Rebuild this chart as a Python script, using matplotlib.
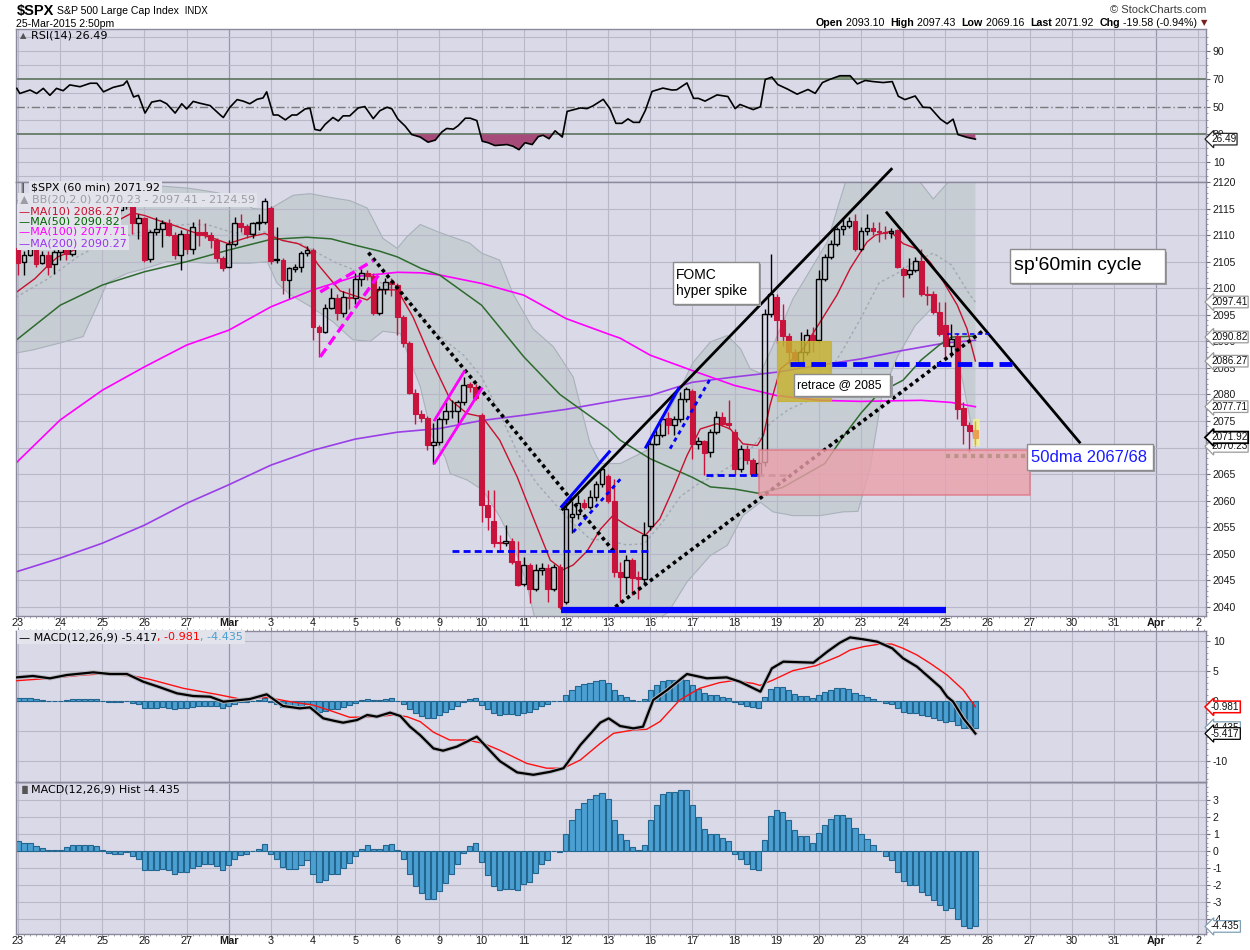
import numpy as np
import matplotlib
matplotlib.use('Agg')
import matplotlib.pyplot as plt
from matplotlib.patches import Rectangle, Polygon
from matplotlib import transforms
import matplotlib.patheffects as pe

plt.rcParams['font.family'] = ['Liberation Sans', 'DejaVu Sans']

# ---------------- DATA ----------------
day_labels = ['23', '24', '25', '26', '27', 'Mar', '3', '4', '5', '6', '9', '10', '11', '12', '13',
              '16', '17', '18', '19', '20', '23', '24', '25', '26', '27', '30', '31', 'Apr', '2']
bars_per_day = 7

opens = [
    2107.5, 2105.0, 2106.3, 2107.5, 2104.7, 2106.3, 2104.6,
    2106.8, 2107.5, 2106.5, 2109.0, 2110.5, 2111.5, 2113.5,
    2114.7, 2111.5, 2113.4, 2114.7, 2115.5, 2115.8, 2112.2,
    2113.2, 2105.5, 2110.6, 2111.2, 2112.2, 2110.0, 2106.2,
    2110.3, 2107.4, 2110.5, 2110.5, 2110.1, 2109.0, 2105.7,
    2104.0, 2108.4, 2112.2, 2111.7, 2110.3, 2112.2, 2112.5,
    2115.1, 2105.3, 2105.4, 2101.5, 2103.7, 2104.0, 2106.6,
    2107.2, 2092.7, 2091.8, 2096.2, 2098.1, 2095.3, 2098.4,
    2098.1, 2101.7, 2102.8, 2102.3, 2095.4, 2099.8, 2101.2,
    2100.6, 2094.6, 2089.6, 2080.2, 2076.4, 2075.5, 2070.5,
    2071.1, 2075.3, 2076.8, 2076.9, 2078.6, 2081.9, 2081.5,
    2076.1, 2059.2, 2056.2, 2052.2, 2052.0, 2052.5, 2048.7,
    2044.4, 2047.9, 2043.3, 2046.9, 2047.4, 2043.3, 2047.6,
    2041.0, 2056.9, 2057.5, 2059.6, 2058.8, 2060.7, 2063.2,
    2064.6, 2059.9, 2046.6, 2045.6, 2048.8, 2045.6, 2045.3,
    2055.3, 2070.7, 2072.3, 2075.6, 2074.2, 2075.4, 2079.2,
    2080.6, 2070.7, 2071.3, 2069.2, 2072.9, 2075.7, 2074.7,
    2072.9, 2066.0, 2069.7, 2067.6, 2065.1, 2067.3, 2095.2,
    2098.3, 2094.1, 2091.1, 2088.0, 2086.2, 2088.0, 2091.2,
    2090.2, 2101.8, 2105.9, 2108.4, 2111.2, 2111.8, 2112.6,
    2107.4, 2110.7, 2111.3, 2110.7, 2110.6, 2110.4, 2110.9,
    2103.6, 2102.7, 2103.5, 2105.2, 2099.0, 2099.0, 2095.6,
    2093.1, 2089.1, 2091.1, 2077.4, 2074.2, 2073.4,
]
highs = [
    2108.0, 2107.0, 2108.5, 2108.5, 2107.0, 2107.0, 2107.2,
    2108.5, 2108.7, 2109.5, 2111.0, 2112.0, 2114.0, 2115.5,
    2115.5, 2114.0, 2115.3, 2116.2, 2116.2, 2116.5, 2114.0,
    2113.5, 2111.0, 2113.5, 2112.8, 2113.0, 2110.5, 2111.0,
    2111.0, 2112.5, 2113.0, 2112.2, 2110.5, 2109.5, 2106.0,
    2109.0, 2113.5, 2114.0, 2112.0, 2112.5, 2114.0, 2117.0,
    2115.5, 2111.5, 2105.6, 2104.0, 2104.5, 2107.0, 2108.0,
    2107.5, 2093.0, 2097.0, 2100.0, 2099.0, 2099.5, 2100.0,
    2102.8, 2103.7, 2103.5, 2102.8, 2100.5, 2102.0, 2102.0,
    2101.0, 2095.0, 2090.0, 2081.0, 2077.0, 2076.0, 2074.6,
    2075.8, 2078.6, 2079.0, 2079.0, 2083.3, 2082.4, 2082.0,
    2076.5, 2062.0, 2062.0, 2053.5, 2055.4, 2053.0, 2052.5,
    2049.5, 2048.3, 2048.0, 2048.2, 2048.0, 2048.0, 2048.0,
    2059.7, 2060.0, 2061.0, 2060.4, 2062.0, 2063.8, 2066.3,
    2065.0, 2064.0, 2048.4, 2049.7, 2049.2, 2046.8, 2056.0,
    2071.7, 2073.5, 2076.0, 2076.7, 2076.0, 2080.4, 2081.5,
    2081.0, 2072.0, 2071.5, 2073.5, 2076.8, 2076.7, 2078.9,
    2073.5, 2070.4, 2070.4, 2068.0, 2067.5, 2096.0, 2106.5,
    2099.0, 2097.1, 2091.5, 2088.5, 2091.8, 2092.4, 2092.7,
    2103.4, 2106.5, 2109.0, 2111.5, 2113.0, 2113.5, 2114.0,
    2111.5, 2114.0, 2112.5, 2112.5, 2111.8, 2111.3, 2111.2,
    2104.0, 2105.7, 2105.9, 2107.4, 2100.5, 2099.5, 2097.4,
    2097.4, 2093.3, 2091.5, 2078.5, 2074.8, 2075.1,
]
lows = [
    2102.5, 2102.5, 2106.0, 2104.0, 2104.5, 2102.5, 2102.7,
    2105.3, 2105.3, 2106.0, 2108.5, 2109.5, 2111.0, 2113.0,
    2111.0, 2111.0, 2113.0, 2114.0, 2115.0, 2110.3, 2109.3,
    2105.0, 2105.0, 2110.0, 2107.8, 2109.8, 2105.5, 2103.5,
    2106.5, 2106.5, 2108.0, 2109.5, 2107.5, 2105.0, 2103.3,
    2104.0, 2108.0, 2110.5, 2109.5, 2109.5, 2111.0, 2112.0,
    2104.5, 2104.8, 2099.0, 2098.2, 2103.0, 2103.0, 2106.0,
    2090.3, 2087.1, 2091.5, 2096.0, 2094.0, 2094.5, 2096.0,
    2097.0, 2100.5, 2101.5, 2095.0, 2095.0, 2099.0, 2098.5,
    2091.2, 2089.0, 2080.0, 2074.5, 2074.8, 2069.5, 2067.0,
    2070.5, 2074.5, 2075.5, 2074.5, 2078.0, 2080.5, 2079.0,
    2056.0, 2054.5, 2051.3, 2050.4, 2051.5, 2048.0, 2044.0,
    2044.0, 2040.7, 2043.0, 2046.0, 2041.0, 2043.0, 2039.6,
    2040.5, 2054.0, 2056.5, 2058.5, 2058.5, 2060.0, 2062.5,
    2059.5, 2045.6, 2040.9, 2042.5, 2042.2, 2041.5, 2044.4,
    2054.5, 2070.4, 2072.0, 2072.6, 2072.3, 2074.8, 2078.5,
    2067.9, 2069.8, 2064.8, 2068.2, 2072.5, 2074.0, 2073.5,
    2064.8, 2065.5, 2067.0, 2064.8, 2064.5, 2066.5, 2094.5,
    2089.6, 2089.2, 2085.8, 2085.6, 2085.6, 2087.5, 2088.0,
    2089.8, 2101.3, 2105.5, 2108.0, 2110.0, 2111.3, 2107.0,
    2107.0, 2110.0, 2110.0, 2108.7, 2109.3, 2109.5, 2103.8,
    2098.3, 2102.0, 2103.0, 2098.5, 2096.8, 2095.2, 2091.0,
    2087.0, 2087.0, 2075.4, 2070.7, 2069.2, 2070.4,
]
closes = [
    2104.7, 2106.3, 2107.5, 2104.5, 2106.3, 2104.0, 2106.8,
    2107.5, 2106.5, 2109.0, 2110.5, 2111.5, 2113.5, 2114.8,
    2111.5, 2113.4, 2114.7, 2115.6, 2115.8, 2112.2, 2113.2,
    2105.4, 2110.6, 2111.2, 2112.2, 2110.0, 2106.2, 2110.3,
    2107.4, 2111.5, 2110.1, 2110.0, 2109.0, 2105.6, 2103.8,
    2108.4, 2112.2, 2111.5, 2110.3, 2112.2, 2112.5, 2116.5,
    2105.1, 2105.4, 2101.5, 2103.8, 2104.0, 2106.6, 2107.2,
    2092.7, 2091.8, 2096.2, 2098.1, 2095.3, 2098.4, 2098.1,
    2101.7, 2102.8, 2102.3, 2095.4, 2099.8, 2101.2, 2100.8,
    2094.6, 2089.6, 2080.2, 2076.4, 2075.5, 2070.5, 2071.1,
    2075.3, 2076.8, 2076.9, 2078.6, 2081.8, 2081.5, 2079.3,
    2059.2, 2057.0, 2052.0, 2052.0, 2052.5, 2048.5, 2044.1,
    2047.9, 2043.3, 2046.9, 2047.4, 2043.3, 2047.6, 2040.0,
    2058.5, 2057.5, 2059.6, 2058.8, 2060.7, 2063.2, 2065.9,
    2059.9, 2046.6, 2045.6, 2048.8, 2045.4, 2045.3, 2053.5,
    2070.7, 2072.3, 2075.4, 2074.2, 2075.4, 2079.2, 2081.1,
    2070.7, 2071.3, 2069.0, 2072.9, 2075.7, 2074.5, 2074.2,
    2066.0, 2069.8, 2067.6, 2065.1, 2067.1, 2095.2, 2099.0,
    2094.1, 2091.1, 2088.0, 2086.4, 2088.0, 2091.2, 2090.2,
    2101.8, 2105.9, 2108.4, 2111.2, 2111.8, 2112.6, 2107.4,
    2110.7, 2111.3, 2110.7, 2110.6, 2110.4, 2110.8, 2104.0,
    2102.5, 2103.5, 2105.2, 2099.0, 2098.8, 2095.6, 2091.4,
    2089.2, 2090.5, 2077.3, 2074.2, 2073.2, 2071.9,
]

# moving averages / bands, read at knot positions (bar index, value)
ma10_x = [-0.2, 2.8, 5, 6.6, 10, 13, 15, 19, 21, 24, 26, 29, 32.7, 34.9, 38.2, 41, 43.9, 46.5, 48.2, 49.8,
          51.5, 53.5, 58, 60.1, 63, 65.6, 68.9, 71.8, 74.6, 77.1, 80, 82.9, 85.5, 88.4, 90.5, 92.2, 94.5,
          96.7, 98.7, 101.2, 104.2, 106.6, 108.8, 111.1, 113.3, 116.1, 118.3, 120.4, 122.8, 123.8, 124.9,
          126.6, 128.7, 130.4, 133.2, 136, 138.2, 141, 142.4, 144.9, 147, 149.3, 151.5, 153.7, 156, 157.6, 159]
ma10_y = [2099.3, 2101.8, 2104.3, 2105.9, 2107.5, 2109.5, 2111.8, 2114.2, 2113.7, 2112.5, 2111.8, 2110.6,
          2109.3, 2108.4, 2109.6, 2110.3, 2109.0, 2108.4, 2107.4, 2104.5, 2102.2, 2099.5, 2097.8, 2099.7,
          2099.7, 2094.6, 2085.9, 2079.0, 2076.4, 2075.8, 2071.4, 2064.5, 2057.0, 2048.8, 2047.0, 2047.9,
          2050.5, 2054.6, 2057.1, 2055.3, 2053.5, 2056.6, 2062.2, 2068.5, 2073.5, 2074.5, 2073.5, 2070.7,
          2070.4, 2072.3, 2078.0, 2084.8, 2086.7, 2088.6, 2093.6, 2098.7, 2103.7, 2108.7, 2110.0, 2110.7,
          2108.4, 2107.4, 2104.9, 2101.2, 2096.8, 2092.4, 2086.3]
ma50_x = [-0.33, 7, 14, 21, 28, 35, 42, 48, 52, 56, 60, 63, 67, 70, 77, 84, 90, 98, 100, 105, 112, 115,
          119, 123, 127, 134, 137, 140, 143, 147, 150, 153, 155, 159]
ma50_y = [2090.2, 2096.8, 2100.6, 2103.1, 2105.0, 2107.2, 2109.2, 2109.6, 2109.3, 2108.1, 2107.0, 2105.9,
          2103.7, 2102.5, 2096.8, 2087.1, 2080.0, 2073.5, 2071.4, 2067.9, 2064.4, 2062.6, 2062.2, 2061.4,
          2062.5, 2067.0, 2072.0, 2076.5, 2080.3, 2082.7, 2086.5, 2089.3, 2090.8, 2091.0]
ma100_x = [-0.33, 7, 14, 21, 28, 35, 42, 49, 56, 63, 67, 70, 77, 84, 91, 98, 100, 105, 112, 119, 126,
           133, 140, 150, 155, 159]
ma100_y = [2067.1, 2075.2, 2080.8, 2085.2, 2089.3, 2092.1, 2096.5, 2099.7, 2102.2, 2103.0, 2102.9, 2102.5,
           2100.9, 2098.7, 2094.3, 2091.4, 2090.6, 2087.4, 2084.5, 2081.7, 2079.8, 2078.9, 2078.7, 2078.9,
           2078.5, 2077.7]
ma200_x = [-0.33, 7, 14, 21, 28, 35, 42, 49, 56, 63, 70, 77, 84, 91, 100, 105, 112, 119, 126, 133, 140,
           147, 154, 159]
ma200_y = [2046.6, 2049.2, 2052.0, 2055.4, 2059.5, 2063.0, 2066.7, 2069.5, 2071.6, 2072.9, 2073.6, 2075.1,
           2076.1, 2077.2, 2079.0, 2079.8, 2082.3, 2083.3, 2084.2, 2085.5, 2086.7, 2088.3, 2089.7, 2090.2]
bbmid_x = [-0.33, 5, 10, 15, 20, 23, 26, 29, 32, 35, 38, 41, 44, 47, 50, 53, 56, 59, 62, 65, 68, 71, 74,
           77, 80, 83, 86, 89, 92, 95, 98, 101, 104, 107, 110, 113, 116, 119, 122, 125, 128, 131, 134,
           137, 140, 143, 146, 149, 152, 155, 158, 159]
bbmid_y = [2098.3, 2101.8, 2106.0, 2109.0, 2110.5, 2111.2, 2111.8, 2112.1, 2111.8, 2110.7, 2110.1, 2110.6,
           2109.0, 2108.4, 2106.5, 2104.7, 2103.4, 2101.7, 2100.1, 2097.8, 2093.0, 2090.1, 2087.4, 2083.3,
           2076.5, 2068.9, 2063.5, 2059.6, 2055.9, 2052.8, 2052.5, 2051.7, 2051.9, 2055.9, 2060.8, 2063.2,
           2064.9, 2067.0, 2070.1, 2074.7, 2077.2, 2078.7, 2083.0, 2088.4, 2094.4, 2101.0, 2102.8, 2105.1,
           2106.6, 2104.4, 2098.9, 2097.4]
bbup_x = [-0.33, 7, 14, 21, 28.6, 33, 36.5, 39, 41.5, 42.4, 45.7, 48.5, 52.3, 55.1, 58, 60.6, 63, 64.6,
          66.8, 70, 75, 77, 80, 82.2, 85.5, 88.9, 92.2, 95, 96.7, 100, 105, 112.1, 115, 117.8, 120, 121.6,
          123.3, 125.7, 128.7, 134.4, 137.7, 140, 145, 149.8, 152, 154.5, 157, 159]
bbup_y = [2116.5, 2117.5, 2118.5, 2119.5, 2118.8, 2118.0, 2117.0, 2115.0, 2114.8, 2115.3, 2117.5, 2117.8,
          2117.0, 2116.5, 2115.1, 2109.4, 2107.5, 2109.7, 2112.0, 2110.5, 2108.5, 2106.6, 2105.3, 2099.0,
          2092.4, 2089.0, 2083.3, 2070.8, 2067.0, 2067.0, 2069.8, 2086.0, 2089.9, 2091.1, 2088.6, 2084.8,
          2084.0, 2090.0, 2098.0, 2108.7, 2121.0, 2126.0, 2124.0, 2120.0, 2116.8, 2120.0, 2122.5, 2124.6]
bblo_x = [-0.33, 2.5, 7, 10.8, 13.1, 14.8, 18.1, 20.8, 24.7, 28.1, 31.4, 35.2, 38.5, 41.4, 43, 45.2, 48.5,
          52.3, 55.6, 58.5, 60.6, 63.5, 65.1, 66.8, 68.8, 70.9, 71.8, 74.6, 77.2, 80, 82.2, 84.5, 86, 92,
          98, 104, 108, 111.1, 115, 117.8, 120.4, 123.3, 125.4, 128.7, 133.2, 137, 139.5, 141.5, 143.5,
          146, 149, 152, 155, 157, 159]
bblo_y = [2087.8, 2088.4, 2089.7, 2090.9, 2096.6, 2101.0, 2102.8, 2103.6, 2105.0, 2105.0, 2104.7, 2104.7,
          2104.7, 2105.0, 2101.0, 2098.8, 2096.6, 2093.7, 2090.3, 2090.0, 2091.9, 2091.5, 2086.5, 2081.5,
          2072.0, 2068.3, 2065.1, 2063.9, 2062.0, 2057.0, 2052.0, 2044.4, 2037.0, 2033.0, 2033.5, 2036.0,
          2039.0, 2044.7, 2049.7, 2051.6, 2057.2, 2059.7, 2057.9, 2057.2, 2057.2, 2057.9, 2058.0, 2066.0,
          2080.0, 2087.0, 2093.0, 2096.5, 2091.0, 2082.0, 2070.2]

rsi_x = [-0.2, 0.3, 2, 3.1, 4.2, 5.3, 6.4, 7.5, 8.6, 10.3, 12, 13.1, 14.2, 15.8, 17.5, 18.1, 19.2, 20, 21.1,
         22.2, 23.6, 24.7, 26.1, 27.2, 28, 29.1, 30.2, 31.9, 33.6, 34.1, 35.2, 36.4, 37.4, 38.5, 39.7, 40.7,
         41.3, 42.4, 43.2, 44.4, 45.5, 46.3, 47.7, 48.5, 49.3, 50.2, 51, 52.3, 53.2, 54, 55.1, 56.5, 57.6,
         59, 60.1, 61.3, 62.1, 63.1, 64.3, 65.4, 66.8, 68.1, 69.3, 70.4, 71.2, 72.3, 73.1, 74.3, 75.1, 76.2,
         77.1, 78.1, 79.2, 81.2, 82.2, 83.2, 84.2, 85.4, 86.4, 87.2, 88.2, 89.2, 90.4, 91.2, 93.4, 94.5,
         95.5, 97.2, 98.3, 99.3, 100.3, 101.3, 102.2, 103.2, 104.2, 105.3, 107.1, 108.6, 109.4, 111.1, 112.2,
         113, 114.1, 116.1, 117.9, 119.1, 119.9, 122.1, 123.3, 124.1, 125.2, 126.2, 127.7, 129.4, 131.2,
         132.4, 133.6, 134.9, 136.5, 138.2, 139.4, 140.7, 142, 143.7, 145.2, 146.2, 147.3, 149, 150.3, 151.5,
         153.2, 154.3, 155.3, 156.1, 157.6, 159]
rsi_y = [63.1, 59.4, 61.9, 59.4, 63.1, 58.1, 63.1, 61.4, 65.6, 64.3, 66.8, 66.8, 60.6, 63.8, 65.6, 68.5,
         56.9, 58.1, 45.3, 53.2, 54.4, 52.0, 45.3, 52.0, 48.3, 53.7, 52.4, 50.7, 43.9, 42.1, 49.5, 55.0, 53.9,
         52.0, 55.2, 56.2, 60.6, 43.9, 43.9, 40.4, 43.9, 43.9, 48.3, 48.8, 33.5, 32.7, 37.1, 42.1, 39.6, 43.3,
         43.3, 49.0, 50.0, 41.3, 47.0, 49.5, 48.3, 40.9, 35.9, 29.8, 28.0, 24.3, 25.8, 31.7, 34.2, 33.7, 36.2,
         41.6, 41.6, 39.9, 25.0, 23.9, 21.9, 22.6, 21.4, 18.9, 23.9, 22.6, 28.3, 29.3, 26.8, 32.5, 28.0, 46.5,
         49.0, 48.5, 50.5, 55.2, 48.5, 37.9, 37.9, 41.1, 38.6, 38.6, 47.3, 60.9, 63.3, 61.9, 62.1, 67.0, 55.9,
         55.9, 53.9, 58.4, 57.2, 48.5, 51.5, 47.8, 49.8, 69.5, 71.2, 65.8, 62.8, 58.9, 62.3, 59.5, 67.3, 69.7,
         72.2, 72.2, 66.3, 68.8, 68.0, 67.3, 68.0, 57.4, 55.0, 57.6, 49.5, 49.2, 40.9, 37.6, 40.9, 29.8, 27.8,
         26.49]

macd_x = [-0.2, 2.5, 5.3, 8.1, 12.5, 15.3, 18.1, 20.8, 23.6, 26.4, 29.1, 31.9, 34.1, 35.8, 38.5, 41.3, 44,
          46.8, 48.5, 50.7, 52.4, 54, 56.3, 58, 59.6, 61.8, 63.5, 65.1, 66.8, 69, 70.6, 72.9, 76.2, 80, 82.9,
          85.6, 88.4, 90.6, 93.4, 96.7, 98.1, 100, 102.2, 103.8, 105.5, 107.8, 111.1, 114.4, 117.7, 119.9,
          123.3, 125.2, 127.1, 132.1, 134.4, 136.5, 138.2, 140.4, 142.7, 145.2, 147, 149.3, 151.5, 153.2,
          154.3, 155.3, 157, 159]
macd_y = [3.94, 4.17, 3.78, 4.33, 4.78, 4.5, 4.5, 3.22, 2.28, 1.28, 0.83, 0.72, -0.11, 0.05, 0.33, 1.11,
          -0.83, -1.22, -1.06, -2.89, -3.28, -3.61, -3.17, -2.33, -2.61, -1.94, -2.5, -4.28, -5.7, -7.9,
          -8.28, -7.6, -5.94, -10.0, -11.9, -12.3, -11.8, -11.2, -7.33, -3.61, -2.89, -4.17, -4.56, -4.28,
          0.17, 1.83, 4.5, 3.78, 3.94, 3.22, 1.56, 5.44, 6.56, 6.39, 8.22, 9.72, 10.6, 10.28, 9.89, 8.78,
          7.11, 5.72, 3.78, 2.28, 0.72, -0.11, -2.89, -5.417]
signal_x = [-0.2, 5.3, 10.8, 13.6, 19.2, 21.9, 27.5, 33, 36.9, 41.3, 45.2, 49, 52.4, 55.1, 59.6, 62.3,
            64.6, 66.8, 69, 71.7, 74.5, 77.3, 80, 84.5, 87.8, 90.6, 93.4, 96.7, 98.9, 102.2, 104.4, 106.6,
            109.9, 113.2, 116.5, 118.7, 122.1, 123.2, 125.4, 128.7, 132.5, 136.4, 138.2, 140.4, 143.2,
            145.1, 147, 149.3, 151.5, 154.3, 157, 159]
signal_y = [3.39, 3.78, 4.33, 4.5, 4.17, 3.61, 2.11, 1.11, 0.33, 0.61, -0.11, -0.67, -1.78, -2.72, -2.61,
            -2.33, -2.61, -3.44, -5.2, -6.5, -6.5, -7.06, -8.2, -10.4, -11.2, -11.2, -9.83, -7.06, -5.39,
            -4.83, -4.72, -3.44, 0.17, 2.11, 3.06, 3.39, 2.94, 2.6, 3.5, 5.06, 5.89, 7.5, 8.5, 9.06, 9.5,
            9.5, 8.78, 7.67, 6.28, 4.33, 1.83, -0.981]
hist = [
    0.57, 0.49, 0.49, 0.29, 0.20, 0.04, 0.08,
    0.08, 0.24, 0.37, 0.33, 0.37, 0.37, 0.29,
    0.04, -0.10, -0.16, -0.16, -0.05, -0.31, -0.49,
    -1.14, -1.14, -1.10, -1.04, -1.10, -1.33, -1.24,
    -1.24, -1.00, -0.88, -0.78, -0.75, -0.90, -1.10,
    -0.84, -0.45, -0.22, -0.16, 0.02, 0.14, 0.43,
    -0.16, -0.49, -0.94, -1.04, -1.04, -0.80, -0.51,
    -1.33, -1.82, -1.69, -1.37, -1.33, -0.98, -0.71,
    -0.31, 0.14, 0.37, 0.10, 0.14, 0.37, 0.43,
    0.08, -0.45, -1.35, -2.06, -2.45, -2.80, -2.84,
    -2.37, -1.86, -1.33, -0.78, -0.12, 0.29, 0.49,
    -0.65, -1.39, -2.08, -2.31, -2.22, -2.22, -2.31,
    -1.92, -1.82, -1.29, -0.75, -0.51, -0.02, -0.08,
    1.02, 1.84, 2.49, 2.82, 3.04, 3.27, 3.43,
    3.08, 1.84, 1.02, 0.67, 0.24, 0.04, 0.37,
    1.80, 2.69, 3.33, 3.47, 3.47, 3.61, 3.57,
    2.69, 2.00, 1.31, 1.02, 1.02, 0.75, 0.57,
    -0.20, -0.45, -0.75, -1.04, -1.10, 0.67, 2.04,
    2.39, 2.27, 1.80, 1.25, 0.90, 0.86, 0.49,
    1.08, 1.55, 1.86, 2.10, 2.10, 1.96, 1.37,
    1.02, 0.73, 0.37, 0.00, -0.29, -0.55, -1.24,
    -1.76, -1.98, -1.98, -2.41, -2.57, -2.86, -3.20,
    -3.45, -3.33, -3.98, -4.43, -4.51, -4.435,
]

# ---------------- FIGURE ----------------
W, H = 1250, 950
fig = plt.figure(figsize=(W / 100, H / 100), dpi=100)
fig.patch.set_facecolor('white')

BG = '#d9d9e8'
GRID = '#b8b8c9'
SPINE = '#8a8a9c'
RED = '#c8143c'
XL = (-0.33, 197.3)
day_pos = [bars_per_day * i for i in range(len(day_labels))]
n = len(closes)
bx = np.arange(n)


def axrect(top, bottom):
    return [16 / W, 1 - bottom / H, 1190 / W, (bottom - top) / H]


ax_rsi = fig.add_axes(axrect(29, 182))
ax = fig.add_axes(axrect(182, 616))
ax_macd = fig.add_axes(axrect(631, 782))
ax_hist = fig.add_axes(axrect(782, 934))


def setup(a, ylim, yt, hgrid):
    a.set_xlim(*XL)
    a.set_ylim(*ylim)
    a.set_facecolor(BG)
    for s in a.spines.values():
        s.set_color(SPINE)
        s.set_linewidth(1.0)
    a.yaxis.tick_right()
    a.set_yticks(yt)
    a.set_yticklabels([str(v) for v in yt])
    a.tick_params(axis='y', which='major', length=3, width=0.8, pad=2, labelsize=7.6,
                  color='#6a6a7a', labelcolor='#1a1a1a')
    a.set_xticks([])
    for i, p in enumerate(day_pos):
        strong = day_labels[i] in ('Mar', 'Apr')
        a.axvline(p, color='#9898aa' if strong else GRID, lw=0.9 if strong else 0.8, zorder=0.8)
    for v in hgrid:
        a.axhline(v, color=GRID, lw=0.8, zorder=0.8)


setup(ax_rsi, (-4.4, 105.9), [10, 30, 50, 70, 90], [0, 10, 20, 40, 60, 80, 90, 100])
setup(ax, (2038.3, 2120.0), list(range(2040, 2121, 5)), list(range(2040, 2121, 5)))
setup(ax_macd, (-13.5, 11.67), [-10, -5, 0, 5, 10], [-10, -5, 0, 5, 10])
setup(ax_hist, (-4.88, 4.06), [-4, -3, -2, -1, 0, 1, 2, 3], [-4, -3, -2, -1, 0, 1, 2, 3, 4])

ax.set_yticks(np.arange(2039, 2120, 1), minor=True)
ax_macd.set_yticks(np.arange(-13, 12, 1), minor=True)
ax_hist.set_yticks(np.arange(-4.75, 4.0, 0.25), minor=True)
ax_rsi.set_yticks(np.arange(0, 105, 5), minor=True)
for a in (ax, ax_macd, ax_hist, ax_rsi):
    a.tick_params(axis='y', which='minor', length=1.5, width=0.6, color='#8a8a9a')

for a, where in ((ax, 'bottom'), (ax_macd, 'top'), (ax_hist, 'bottom')):
    a.set_xticks(day_pos)
    a.set_xticklabels([])
    a.set_xticks(np.arange(0, 198, 1), minor=True)
    a.tick_params(axis='x', which='both', bottom=(where == 'bottom'), top=(where == 'top'),
                  labelbottom=False, labeltop=False, color='#8a8a9a', direction='out')
    a.tick_params(axis='x', which='major', length=3, width=0.8)
    a.tick_params(axis='x', which='minor', length=1.5, width=0.6)

blend_main = transforms.blended_transform_factory(ax.transData, fig.transFigure)
for lab, p in zip(day_labels, day_pos):
    bold = lab in ('Mar', 'Apr')
    for yy in (623, 941):
        fig.text(p, 1 - yy / H, lab, transform=blend_main, ha='center', va='center',
                 fontsize=7.8, fontweight='bold' if bold else 'normal', color='#1a1a1a')

# ---------------- RSI ----------------
ax_rsi.axhline(70, color='#5d745d', lw=1.2, zorder=1)
ax_rsi.axhline(30, color='#5d745d', lw=1.2, zorder=1)
ax_rsi.axhline(50, color='#7a7a7a', lw=1.0, ls=(0, (6, 2, 1, 2)), zorder=1)
rx = np.array(rsi_x)
ry = np.array(rsi_y)
ax_rsi.fill_between(rx, ry, 30, where=ry < 30, interpolate=True, color='#a64b79', lw=0, zorder=1.5)
ax_rsi.fill_between(rx, ry, 70, where=ry > 70, interpolate=True, color='#7d9474', lw=0, zorder=1.5)
ax_rsi.plot(rx, ry, color='black', lw=1.2, zorder=3)

# ---------------- MAIN PRICE ----------------
band = Polygon(list(zip(bbup_x, bbup_y)) + list(zip(bblo_x[::-1], bblo_y[::-1])), closed=True,
               fc='#c6cdd3', ec='none', zorder=0.5)
ax.add_patch(band)
ax.plot(bbup_x, bbup_y, color='#a9b1b9', lw=0.8, zorder=0.9)
ax.plot(bblo_x, bblo_y, color='#a9b1b9', lw=0.8, zorder=0.9)
ax.plot(bbmid_x, bbmid_y, color='#a3a9b3', lw=1.0, ls=(0, (2, 2)), zorder=1.0)
ax.plot(ma200_x, ma200_y, color='#9a3ee6', lw=1.2, zorder=2)
ax.plot(ma100_x, ma100_y, color='#ff00ff', lw=1.2, zorder=2)
ax.plot(ma50_x, ma50_y, color='#2e6b2e', lw=1.1, zorder=2)
ax.plot(ma10_x, ma10_y, color='#c8102e', lw=1.0, zorder=2)

bw = 0.8
for i in range(n):
    o, h, l, c = opens[i], highs[i], lows[i], closes[i]
    h = max(h, o, c)
    l = min(l, o, c)
    top, bot = max(o, c), min(o, c)
    hgt = max(top - bot, 0.12)
    if c >= o:
        ax.vlines(i, top, h, color='black', lw=1.0, zorder=3)
        ax.vlines(i, l, bot, color='black', lw=1.0, zorder=3)
        ax.add_patch(Rectangle((i - bw / 2, bot), bw, hgt, fill=False, ec='black', lw=1.0, zorder=3.1))
    else:
        ax.vlines(i, l, h, color=RED, lw=1.0, zorder=3)
        ax.add_patch(Rectangle((i - bw / 2, bot), bw, hgt, fc=RED, ec=RED, lw=0.8, zorder=3.1))

# user drawn annotation lines
ax.plot([90.3, 145.2], [2058.2, 2122.6], color='black', lw=2.0, zorder=4, clip_on=False,
        solid_capstyle='butt')
ax.plot([144.3, 176.3], [2114.2, 2071.0], color='black', lw=2.0, zorder=4)
ax.plot([58.2, 99.2], [2106.7, 2050.1], color='black', lw=2.6, ls=(0, (1, 1)), zorder=4)
ax.plot([99.2, 160.4], [2040.0, 2092.1], color='black', lw=2.6, ls=(0, (1, 1)), zorder=4)
ax.plot([90.3, 98.2], [2058.9, 2069.2], color='#0000ff', lw=2.2, zorder=4.1)
ax.plot([104.3, 109.7], [2070.1, 2081.1], color='#0000ff', lw=2.2, zorder=4.1)
ax.plot([92.2, 100.3], [2054.1, 2064.4], color='#0000ff', lw=2.0, ls=(0, (1.5, 1.5)), zorder=4.1)
ax.plot([108.3, 115.0], [2069.8, 2083.0], color='#0000ff', lw=2.0, ls=(0, (1.5, 1.5)), zorder=4.1)
ax.plot([50.2, 59.0], [2099.3, 2105.2], color='#ff00ff', lw=2.4, ls=(0, (3, 1.5)), zorder=4)
ax.plot([50.2, 60.1], [2087.1, 2102.8], color='#ff00ff', lw=2.4, ls=(0, (3, 1.5)), zorder=4)
ax.plot([69.2, 74.1], [2075.2, 2084.3], color='#ff00ff', lw=2.0, zorder=4)
ax.plot([69.2, 77.0], [2067.1, 2081.1], color='#ff00ff', lw=2.0, zorder=4)
ax.plot([72.0, 105.0], [2050.5, 2050.5], color='#0000ff', lw=2.0, ls=(0, (2.5, 1.5)), zorder=4)
ax.plot([90.2, 154.2], [2039.5, 2039.5], color='#0000ff', lw=4.5, zorder=4, solid_capstyle='butt')
ax.plot([114.2, 122.7], [2064.9, 2064.9], color='#0000ff', lw=2.0, ls=(0, (2.5, 1.5)), zorder=4)
ax.plot([122.7, 127.5], [2064.9, 2064.9], color='#6a6a7a', lw=2.0, ls=(0, (2.5, 1.5)), zorder=4)
ax.plot([154.3, 161.2], [2091.3, 2091.3], color='#0000ff', lw=1.1, ls=(0, (3, 2)), zorder=4)
ax.plot([154.2, 167.6], [2068.5, 2068.5], color='#006400', lw=3.0, ls=(0, (1, 1)), zorder=4.2)

# highlight rectangles
ax.add_patch(Rectangle((126.0, 2078.7), 9.0, 11.3, fc='#c6b22e', ec='#c6b22e', alpha=0.82, lw=0.8, zorder=5))
ax.add_patch(Rectangle((123.0, 2061.0), 45.1, 8.6, fc='#eba0aa', ec='#e07686', alpha=0.8, lw=1.2, zorder=5))
ax.add_patch(Rectangle((158.6, 2070.3), 1.2, 5.0, fc='#ffff60', ec='none', alpha=0.6, zorder=5))
ax.plot([128.2, 165.0], [2085.8, 2085.8], color='#0000ff', lw=3.5, ls=(0, (3, 1.3)), zorder=5.5)


def note_box(x0, x1, y0, y1, s, tx, ty, size, color='black'):
    ax.add_patch(Rectangle((x0 + 0.35, y0 - 0.4), x1 - x0, y1 - y0, fc='#9a9aa4', ec='none', zorder=6))
    ax.add_patch(Rectangle((x0, y0), x1 - x0, y1 - y0, fc='white', ec='#8c8c8c', lw=1.0, zorder=6.1))
    ax.text(tx, ty, s, fontsize=size, color=color, ha='left', va='center', zorder=6.2, linespacing=1.25)


note_box(108.7, 123.0, 2097.1, 2104.9, 'FOMC\nhyper spike', 109.2, 2101.0, 10)
note_box(128.8, 144.9, 2079.8, 2083.8, 'retrace @ 2085', 129.3, 2081.8, 8.8)
note_box(164.7, 190.5, 2101.0, 2107.3, "sp'60min cycle", 165.4, 2104.2, 14)
note_box(167.6, 188.5, 2065.8, 2070.7, '50dma 2067/68', 168.3, 2068.2, 12, color='#1a1aff')

# ---------------- MACD ----------------
hb = dict(width=0.85, color='#4b9fd1', edgecolor='#22658f', linewidth=0.8)
ax_macd.bar(bx, hist, zorder=2, **hb)
ax_macd.plot(signal_x, signal_y, color='#ff1010', lw=1.0, zorder=3)
ax_macd.plot(macd_x, macd_y, color='black', lw=1.6, zorder=4,
             path_effects=[pe.Stroke(linewidth=3.0, foreground='#b4b4bc'), pe.Normal()])
ax_hist.bar(bx, hist, zorder=2, **hb)

# ---------------- right-side value tags ----------------


def tag(a, val, s, ec, lw=0.9):
    tr = transforms.blended_transform_factory(a.transAxes, a.transData)
    a.text(1.0 + 5 / 1190, val, s, transform=tr, ha='left', va='center', fontsize=7.2, color='#111111',
           bbox=dict(boxstyle='larrow,pad=0.08', fc='white', ec=ec, lw=lw), clip_on=False, zorder=20)


tag(ax_rsi, 26.49, '26.49', '#222222')
tag(ax, 2097.41, '2097.41', '#9a9a9a')
tag(ax, 2090.82, '2090.82', '#9a9a9a')
tag(ax, 2086.27, '2086.27', '#9a9a9a')
tag(ax, 2077.71, '2077.71', '#9a9a9a')
tag(ax, 2070.23, '2070.23', '#9a9a9a')
tag(ax, 2071.92, '2071.92', '#000000', lw=1.3)
tag(ax_macd, -0.981, '-0.981', '#ff0000', lw=1.1)
tag(ax_macd, -4.435, '-4.435', '#7f9fb5')
tag(ax_macd, -5.417, '-5.417', '#000000')
tag(ax_hist, -4.435, '-4.435', '#7f9fb5')

# ---------------- texts ----------------
renderer = fig.canvas.get_renderer()


def seq(x_px, y_px, parts, family=None, bbox=None):
    x = x_px
    for s, kw in parts:
        extra = {}
        if family:
            extra['family'] = family
        if bbox:
            extra['bbox'] = bbox
        t = fig.text(x / W, 1 - y_px / H, s, ha='left', va='center', zorder=30, **extra, **kw)
        x += t.get_window_extent(renderer=renderer).width
    return x


seq(17, 11, [('$SPX', dict(fontsize=10.5, fontweight='bold')),
             (' S&P 500 Large Cap Index ', dict(fontsize=7.6)),
             (' INDX', dict(fontsize=7.0))])
fig.text(16 / W, 1 - 24 / H, '25-Mar-2015 2:50pm', fontsize=7.6, ha='left', va='center')
fig.text(1206 / W, 1 - 10 / H, '\u00a9 StockCharts.com', fontsize=8, ha='right', va='center',
         color='#3a3a3a')

hparts = [('Open', dict(fontsize=7.7, fontweight='bold')), (' 2093.10  ', dict(fontsize=7.7)),
          ('High', dict(fontsize=7.7, fontweight='bold')), (' 2097.43  ', dict(fontsize=7.7)),
          ('Low', dict(fontsize=7.7, fontweight='bold')), (' 2069.16  ', dict(fontsize=7.7)),
          ('Last', dict(fontsize=7.7, fontweight='bold')), (' 2071.92  ', dict(fontsize=7.7)),
          ('Chg', dict(fontsize=7.7, fontweight='bold')), (' -19.58 (-0.94%)', dict(fontsize=7.7))]
tw = 0
for s, kw in hparts:
    tt = fig.text(0, 0, s, **kw)
    tw += tt.get_window_extent(renderer=renderer).width
    tt.remove()
seq(1197 - tw, 23, hparts)
fig.text(1204 / W, 1 - 23 / H, '\u25bc', fontsize=6, ha='center', va='center', color='#7a2020',
         family=['DejaVu Sans'])

LB = dict(boxstyle='square,pad=0.15', fc='#e3e3ec', ec='none')
fig.text(20 / W, 1 - 36 / H, '\u25b2', fontsize=6, color='#555555', ha='left', va='center',
         family=['DejaVu Sans'])
seq(31, 36, [('RSI(14) 26.49', dict(fontsize=8, color='black'))], family=['DejaVu Sans'])

fig.text(19 / W, 1 - 188 / H, '\u2551', fontsize=7, color='#333333', ha='left', va='center',
         family=['DejaVu Sans'])
seq(31, 188, [('$SPX (60 min) 2071.92', dict(fontsize=8, color='black'))], family=['DejaVu Sans'], bbox=LB)
seq(20, 200, [('\u25b2 BB(20,2.0) 2070.23 - 2097.41 - 2124.59', dict(fontsize=8, color='#9c9ca6'))],
    family=['DejaVu Sans'], bbox=LB)
for yy, s, col in ((211, 'MA(10) 2086.27', '#c8102e'), (222, 'MA(50) 2090.82', '#006400'),
                   (232, 'MA(100) 2077.71', '#ff00ff'), (243, 'MA(200) 2090.27', '#9933ee')):
    seq(19, yy, [('\u2014' + s, dict(fontsize=8, color=col))], family=['DejaVu Sans'], bbox=LB)

xm = seq(19, 637, [('\u2014 MACD(12,26,9) -5.417', dict(fontsize=8, color='black'))],
         family=['DejaVu Sans'], bbox=LB)
xm = seq(xm, 637, [(', -0.981', dict(fontsize=8, color='#ff0000'))], family=['DejaVu Sans'], bbox=LB)
seq(xm, 637, [(', -4.435', dict(fontsize=8, color='#4b9fd1'))], family=['DejaVu Sans'], bbox=LB)

fig.text(19 / W, 1 - 789 / H, '\u2590\u258c', fontsize=6, color='#555555', ha='left', va='center',
         family=['DejaVu Sans'])
seq(31, 789, [('MACD(12,26,9) Hist -4.435', dict(fontsize=8, color='black'))], family=['DejaVu Sans'])

fig.savefig('out.png', dpi=100, facecolor='white')
